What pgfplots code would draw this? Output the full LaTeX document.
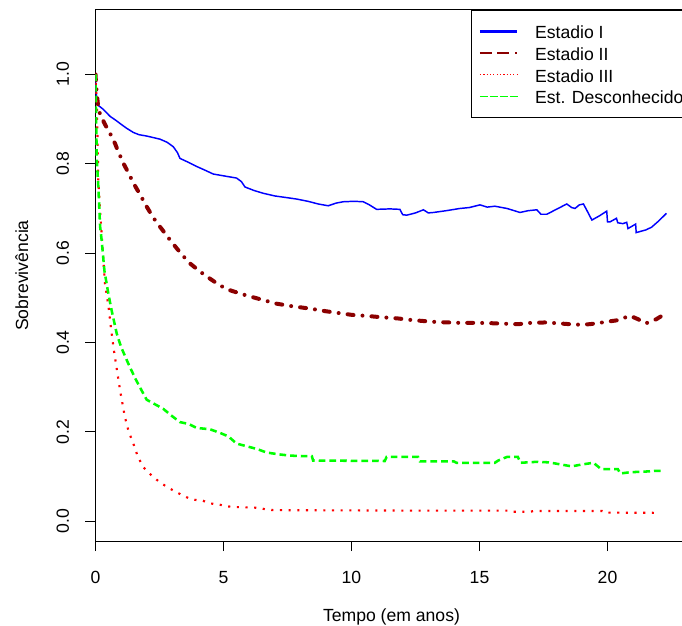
\documentclass[border=0pt]{standalone}
\usepackage{pgfplots}
\pgfplotsset{compat=1.18}
\usepackage{fontspec}
\setmainfont{Liberation Sans}
\definecolor{rblue}{RGB}{0,0,255}
\definecolor{rdarkred}{RGB}{139,0,0}
\definecolor{rred}{RGB}{255,0,0}
\definecolor{rgreen}{RGB}{0,255,0}
\newcommand{\fs}{\fontsize{13.2}{15.8}\selectfont}
\begin{document}
\begin{tikzpicture}
\clip (-71.625pt,-63pt) rectangle (439.875pt,405.75pt);
\begin{axis}[
  name=ax,
  at={(0pt,0pt)}, anchor=south west,
  scale only axis, width=444pt, height=398.25pt,
  xmin=0, xmax=23.125, ymin=-0.044, ymax=1.144,
  axis line style={black, line width=0.75pt},
  tick align=outside, major tick length=7.5pt,
  tick style={black, line width=0.75pt},
  xtick pos=bottom, ytick pos=left,
  xtick={0,5,10,15,20}, xticklabels={0,5,10,15,20},
  ytick={0,0.2,0.4,0.6,0.8,1.0}, yticklabels={0.0,0.2,0.4,0.6,0.8,1.0},
  /pgf/number format/assume math mode=true,
  ticklabel style={font=\fs},
  xticklabel style={anchor=base, yshift=-24pt},
  yticklabel style={xshift=-12.5pt, rotate=90, anchor=base},
  legend style={at={(rel axis cs:1,1)}, xshift=2.25pt, anchor=north east, draw=black, line width=0.75pt,
    fill=white, inner xsep=4.9pt, inner ysep=7.45pt, row sep=0pt, column sep=12pt, font=\fs,
    nodes={inner sep=0pt, text height=13.75pt, text depth=2.55pt}},
  legend cell align=left,
  legend image code/.code={\path (0pt,0pt) -- (28.1pt,0pt); \draw[#1] (2.6pt,0pt) -- (28.1pt,0pt);},
]
\addlegendimage{rblue, line width=2.5pt}
\addlegendentry{Estadio I}
\addlegendimage{rdarkred, line width=2pt, dash pattern=on 6.4pt off 6.75pt}
\addlegendentry{Estadio II}
\addlegendimage{rred, line width=0.9pt, dash pattern=on 0.9pt off 4.1pt}
\addlegendentry{Estadio III}
\addlegendimage{rgreen, line width=0.9pt, dash pattern=on 3.75pt off 1.5pt on 0.75pt off 1.5pt}
\addlegendentry{Est. Desconhecido}

% Estadio I
\addplot[forget plot, sharp plot, rblue, line width=1.1pt] coordinates {
(0,1.0) (0.01,0.97) (0.06,0.94) (0.12,0.93) (0.3,0.922) (0.57,0.906) (0.8,0.897) (0.96,0.89) (1.2,0.88) (1.48,0.870) (1.7,0.865) (2.0,0.862) (2.3,0.858) (2.52,0.855) (2.8,0.848) (3.04,0.838) (3.2,0.825) (3.30,0.812) (3.6,0.804) (3.95,0.794) (4.3,0.785) (4.6,0.777) (5.0,0.773) (5.51,0.768) (5.7,0.76) (5.84,0.748) (6.2,0.740) (6.55,0.734) (7.0,0.728) (7.5,0.724) (7.86,0.721) (8.3,0.716) (8.7,0.710) (9.09,0.706) (9.4,0.712) (9.68,0.715) (10.1,0.716) (10.46,0.715) (10.7,0.708) (10.98,0.698) (11.5,0.699) (11.89,0.698) (12.0,0.686) (12.16,0.685) (12.5,0.69) (12.81,0.697) (13.0,0.690) (13.2,0.691) (13.7,0.695) (14.24,0.700) (14.6,0.702) (15.02,0.708) (15.3,0.703) (15.6,0.705) (16.07,0.700) (16.3,0.696) (16.58,0.691) (16.9,0.695) (17.24,0.697) (17.4,0.687) (17.63,0.687) (18.0,0.698) (18.41,0.710) (18.6,0.702) (18.73,0.700) (18.9,0.708) (19.06,0.710) (19.2,0.695) (19.39,0.674) (19.7,0.684) (19.97,0.694) (20.0,0.670) (20.1,0.670) (20.35,0.678) (20.4,0.668) (20.6,0.666) (20.75,0.669) (20.8,0.655) (21.1,0.665) (21.12,0.646) (21.5,0.652) (21.72,0.658) (22.0,0.672) (22.3,0.689)
};
% Estadio II
\addplot[forget plot, sharp plot, rdarkred, line width=3pt, line cap=round, dash pattern=on 4.5pt off 6.75pt on 0pt off 6.75pt] coordinates {
(0,1.0) (0.02,0.98) (0.05,0.958) (0.1,0.93) (0.18,0.910) (0.4,0.885) (0.70,0.854) (0.9,0.826) (1.09,0.801) (1.3,0.778) (1.48,0.757) (1.75,0.73) (2.0,0.704) (2.25,0.68) (2.52,0.659) (2.85,0.634) (3.17,0.611) (3.45,0.592) (3.69,0.577) (4.1,0.558) (4.47,0.543) (4.85,0.528) (5.25,0.517) (5.8,0.507) (6.3,0.499) (7.07,0.487) (7.7,0.481) (8.38,0.476) (9.0,0.470) (9.5,0.466) (10.0,0.462) (10.5,0.460) (11.1,0.457) (11.8,0.454) (12.4,0.450) (13.3,0.446) (14.24,0.444) (15.0,0.444) (15.6,0.443) (16.5,0.441) (17.0,0.444) (17.6,0.445) (18.3,0.442) (18.8,0.440) (19.3,0.441) (19.8,0.445) (20.4,0.450) (20.88,0.460) (21.2,0.452) (21.5,0.443) (21.9,0.452) (22.3,0.466)
};
% Estadio III
\addplot[forget plot, sharp plot, rred, line width=1.6pt, dash pattern=on 1.6pt off 4.9pt] coordinates {
(0,1.0) (0.02,0.97) (0.05,0.943) (0.08,0.85) (0.11,0.764) (0.17,0.70) (0.24,0.644) (0.3,0.59) (0.37,0.532) (0.5,0.484) (0.6,0.435) (0.70,0.390) (0.8,0.352) (0.89,0.319) (1.0,0.28) (1.15,0.233) (1.3,0.20) (1.48,0.174) (1.65,0.145) (1.87,0.121) (2.2,0.102) (2.52,0.087) (2.85,0.075) (3.17,0.065) (3.37,0.059) (3.63,0.052) (3.9,0.048) (4.2,0.046) (4.47,0.040) (4.8,0.038) (5.08,0.034) (5.4,0.032) (6.1,0.031) (6.4,0.030) (6.7,0.026) (7.0,0.025) (12.4,0.024) (16.2,0.024) (16.3,0.0215) (17.0,0.0215) (17.1,0.023) (19.8,0.023) (19.9,0.0195) (22.0,0.019)
};
% Est. Desconhecido
\addplot[forget plot, sharp plot, rgreen, line width=1.9pt, dash pattern=on 5pt off 3pt] coordinates {
(0,1.0) (0.02,0.92) (0.05,0.81) (0.08,0.78) (0.11,0.749) (0.18,0.66) (0.24,0.629) (0.35,0.56) (0.5,0.51) (0.63,0.472) (0.83,0.420) (1.0,0.39) (1.28,0.353) (1.55,0.32) (1.8,0.293) (2.0,0.272) (2.64,0.252) (3.0,0.235) (3.3,0.222) (3.63,0.218) (3.95,0.209) (4.47,0.206) (4.86,0.198) (5.19,0.190) (5.51,0.174) (5.9,0.168) (6.3,0.162) (6.68,0.154) (7.14,0.150) (7.6,0.147) (8.1,0.146) (8.45,0.146) (8.5,0.136) (11.3,0.135) (11.37,0.144) (12.6,0.144) (12.67,0.134) (14.0,0.134) (14.1,0.131) (15.6,0.131) (15.73,0.136) (16.07,0.144) (16.5,0.144) (16.6,0.131) (17.2,0.133) (17.7,0.132) (18.1,0.128) (18.6,0.123) (18.98,0.127) (19.45,0.131) (19.75,0.117) (20.4,0.117) (20.5,0.107) (20.9,0.110) (21.4,0.111) (21.9,0.113) (22.1,0.113)
};
\end{axis}
\node[anchor=base, yshift=-60pt, font=\fs] at (ax.south) {Tempo (em anos)};
\node[xshift=-50.6pt, rotate=90, anchor=base, font=\fs] at (ax.west) {Sobrevivência};
\end{tikzpicture}
\end{document}
